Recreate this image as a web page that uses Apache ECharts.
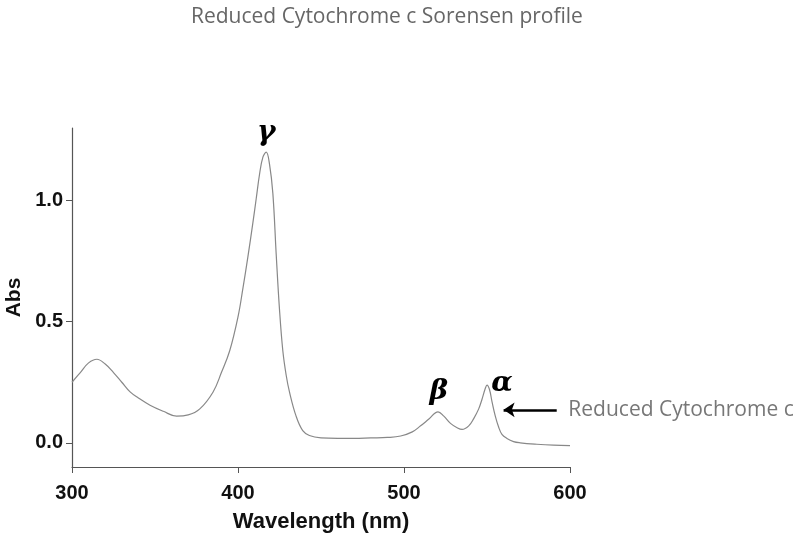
<!DOCTYPE html>
<html>
<head>
<meta charset="utf-8">
<title>Reduced Cytochrome c Sorensen profile</title>
<script src="https://cdn.jsdelivr.net/npm/echarts@6/dist/echarts.min.js"></script>
<style>
	html, body{
		margin: 0;
		padding: 0;
		background: #fff;
	}
	#chart_box{
		width: 800px;
		height: 550px;
	}
</style>
</head>
<body>
<div id="chart_box"></div>
<script type="text/javascript">
// spectrum
var wavelength = [300, 305, 310, 315, 320, 325, 330, 335, 340, 347, 355, 363, 370, 377, 385, 390, 395, 400, 403, 406, 409, 411, 413, 415, 417, 419, 421, 423, 425, 427, 429, 431, 435, 439, 443, 450, 460, 470, 480, 490, 498, 505, 510, 515, 520.5, 524, 528, 532, 535, 539, 542, 545, 547, 549, 550, 551.5, 553, 555, 557, 559, 562, 566, 570, 580, 590, 600];
var absorbance = [0.25, 0.29, 0.33, 0.345, 0.325, 0.29, 0.25, 0.21, 0.185, 0.155, 0.13, 0.11, 0.115, 0.14, 0.21, 0.29, 0.38, 0.52, 0.64, 0.77, 0.91, 1.01, 1.11, 1.18, 1.20, 1.15, 1.03, 0.78, 0.55, 0.38, 0.28, 0.21, 0.11, 0.05, 0.03, 0.02, 0.018, 0.018, 0.02, 0.022, 0.028, 0.045, 0.07, 0.098, 0.128, 0.11, 0.08, 0.062, 0.055, 0.07, 0.1, 0.14, 0.18, 0.225, 0.238, 0.22, 0.17, 0.11, 0.065, 0.035, 0.018, 0.005, 0.0, -0.006, -0.01, -0.012];

var yTicks = [0, 0.5, 1.0];

// band labels (hand written on the original)
var bandNames = ['γ', 'β', 'α'];
var bandX = [417, 521, 559];
var bandY = [1.28, 0.21, 0.245];

var arrowFrom = [592, 0.136];
var arrowTo = [560, 0.136];
var noteText = 'Reduced Cytochrome c';

var myChart = echarts.init(document.getElementById('chart_box'));

var lineData = wavelength.map(function(w, i) { return [w, absorbance[i]]; });

var bandPoints = bandNames.map(function(n, i) {
	return {
		coord: [bandX[i], bandY[i]],
		symbolSize: 0,
		label: {
			show: true,
			position: 'inside',
			formatter: n,
			fontFamily: 'DejaVu Serif',
			fontStyle: 'italic',
			fontWeight: 'bold',
			fontSize: 28,
			color: '#000'
		}
	};
});
bandPoints.push({
	coord: [599, arrowFrom[1]],
	symbolSize: 0,
	label: {
		show: true,
		position: 'right',
		distance: 0,
		formatter: noteText,
		fontFamily: 'Open Sans',
		fontSize: 21,
		color: '#777'
	}
});

var option = {
	animation: false,
	title: {
		text: 'Reduced Cytochrome c Sorensen profile',
		left: 186,
		top: 2,
		textStyle: {
			fontFamily: 'Open Sans',
			fontWeight: 'normal',
			fontSize: 21,
			color: '#666'
		}
	},
	grid: {
		left: 72,
		right: 230,
		top: 128,
		bottom: 83,
		outerBoundsMode: 'none'
	},
	xAxis: {
		type: 'value',
		min: 300,
		max: 600,
		interval: 100,
		name: 'Wavelength (nm)',
		nameLocation: 'middle',
		nameGap: 44,
		nameTextStyle: {
			fontFamily: 'Liberation Sans',
			fontWeight: 'bold',
			fontSize: 22,
			color: '#111'
		},
		axisLine: { onZero: false, lineStyle: { color: '#555', width: 1.2 } },
		axisTick: { length: 6, lineStyle: { color: '#555' } },
		axisLabel: {
			margin: 16,
			fontFamily: 'Liberation Sans',
			fontWeight: 'bold',
			fontSize: 20,
			color: '#111'
		},
		splitLine: { show: false }
	},
	yAxis: {
		type: 'value',
		min: -0.1,
		max: 1.3,
		name: 'Abs',
		nameLocation: 'middle',
		nameGap: 44,
		nameTextStyle: {
			fontFamily: 'Liberation Sans',
			fontWeight: 'bold',
			fontSize: 21,
			color: '#111'
		},
		axisLine: { show: true, lineStyle: { color: '#555', width: 1.2 } },
		axisTick: { show: true, length: 6, customValues: yTicks, lineStyle: { color: '#555' } },
		axisLabel: {
			customValues: yTicks,
			margin: 9,
			fontFamily: 'Liberation Sans',
			fontWeight: 'bold',
			fontSize: 20,
			color: '#111',
			formatter: function(v) { return v.toFixed(1); }
		},
		splitLine: { show: false }
	},
	series: [
		{
			name: 'Reduced Cytochrome c',
			type: 'line',
			data: lineData,
			smooth: 0.4,
			showSymbol: false,
			clip: false,
			lineStyle: { color: '#888', width: 1.2 },
			markPoint: {
				silent: true,
				symbol: 'circle',
				data: bandPoints
			},
			markLine: {
				silent: true,
				symbolSize: 11,
				label: { show: false },
				lineStyle: { color: '#000', width: 2.5, type: 'solid' },
				data: [[
					{ coord: arrowFrom, symbol: 'none' },
					{ coord: arrowTo, symbol: 'arrow' }
				]]
			}
		}
	]
};
myChart.setOption(option);
</script>
</body>
</html>
